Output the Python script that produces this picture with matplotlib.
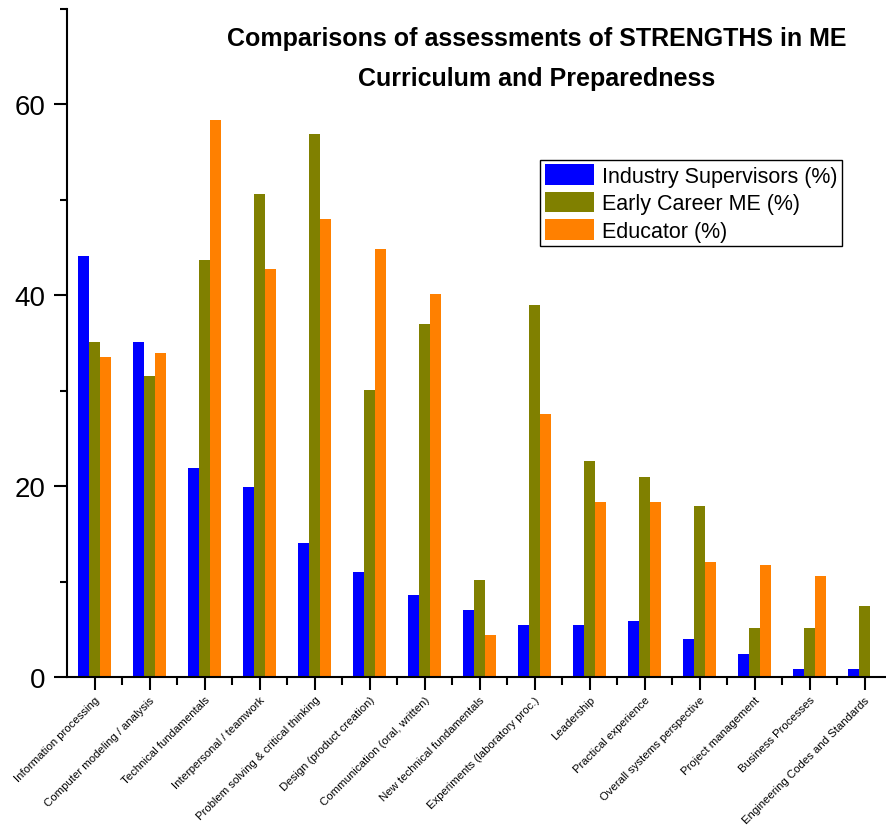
import numpy as np
import matplotlib.pyplot as plt
from matplotlib.ticker import MultipleLocator

plt.rcParams['font.family'] = ['Liberation Sans', 'DejaVu Sans']

# ---------- data ----------
categories = ['Information processing', 'Computer modeling / analysis',
              'Technical fundamentals', 'Interpersonal / teamwork',
              'Problem solving & critical thinking', 'Design (product creation)',
              'Communication (oral, written)', 'New technical fundamentals',
              'Experiments (laboratory proc.)', 'Leadership',
              'Practical experience', 'Overall systems perspective',
              'Project management', 'Business Processes',
              'Engineering Codes and Standards']
industry = [44.1, 35.1, 21.9, 19.9, 14.0, 11.0, 8.6, 7.0, 5.5, 5.5, 5.9, 4.0, 2.4, 0.8, 0.8]
early    = [35.1, 31.5, 43.7, 50.6, 56.9, 30.1, 37.0, 10.2, 39.0, 22.6, 21.0, 17.9, 5.1, 5.1, 7.4]
educator = [33.5, 33.9, 58.4, 42.8, 48.0, 44.8, 40.1, 4.4, 27.6, 18.3, 18.3, 12.1, 11.7, 10.6, 0.0]
series = ['Industry Supervisors (%)', 'Early Career ME (%)', 'Educator (%)']
colors = ['#0000FF', '#808000', '#FF8000']

# ---------- plot ----------
fig = plt.figure(figsize=(8.86, 8.29), dpi=100)
ax = fig.add_axes([67/886, 151/829, 819/886, 668/829])

x = np.arange(len(categories))
w = 0.2
for k, (vals, col, lab) in enumerate(zip([industry, early, educator], colors, series)):
    ax.bar(x + (k - 1) * w, vals, width=w, color=col, label=lab, linewidth=0)

ax.set_xlim(-0.5, 14.39)
ax.set_ylim(0, 70)
ax.yaxis.set_major_locator(MultipleLocator(20))
ax.yaxis.set_minor_locator(MultipleLocator(10))
ax.set_xticks(x)
ax.set_xticks(x[:-1] + 0.5, minor=True)
ax.set_xticklabels(categories, rotation=45, ha='right', rotation_mode='anchor', fontsize=8.2)
ax.tick_params(axis='y', which='major', labelsize=20, length=9.5, width=1.5, direction='out', pad=6)
ax.tick_params(axis='y', which='minor', length=5, width=1.5, direction='out')
ax.tick_params(axis='x', which='major', length=9.5, width=1.5, direction='out', pad=3)
ax.tick_params(axis='x', which='minor', length=5.5, width=1.5, direction='out')

for s in ['top', 'right']:
    ax.spines[s].set_visible(False)
for s in ['left', 'bottom']:
    ax.spines[s].set_linewidth(1.5)

ax.text(0.574, 0.957, 'Comparisons of assessments of STRENGTHS in ME',
        transform=ax.transAxes, ha='center', va='center', fontsize=18, fontweight='bold')
ax.text(0.574, 0.897, 'Curriculum and Preparedness',
        transform=ax.transAxes, ha='center', va='center', fontsize=18, fontweight='bold')

leg = ax.legend(loc='upper left', bbox_to_anchor=(0.578, 0.774), fontsize=15.5,
                fancybox=False, frameon=True, edgecolor='black', framealpha=1,
                handlelength=2.3, handleheight=1.1, labelspacing=0.22,
                handletextpad=0.35, borderpad=0.2, borderaxespad=0)
leg.get_frame().set_linewidth(1.0)

fig.savefig('out.png', dpi=100)
